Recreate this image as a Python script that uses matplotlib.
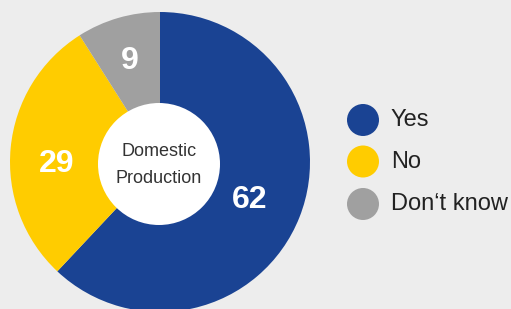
import matplotlib.pyplot as plt
from matplotlib.patches import Circle
import numpy as np

# survey answers
labels = ["Yes", "No", "Don\u2018t know"]
values = [62, 29, 9]
colors = ["#1a4393", "#ffcc00", "#a0a0a0"]
center_text = "Domestic\nProduction"

bg = "#ededed"
W, H = 511, 309

fig = plt.figure(figsize=(W / 100, H / 100), dpi=100)
fig.patch.set_facecolor(bg)
ax = fig.add_axes([0, 0, 1, 1])

cx, cy, r = 160, H - 162, 150
wedges, _ = ax.pie(values, colors=colors, startangle=90, counterclock=False,
                   radius=r, center=(cx, cy), frame=True,
                   wedgeprops=dict(linewidth=0))
ax.set_xlim(0, W)
ax.set_ylim(0, H)
ax.set_aspect("equal")
ax.axis("off")

# value labels inside the ring
label_r = [0.645, 0.69, 0.72]
label_shift = [0, 5.4, 0]  # degrees
for w, v, lr, sh in zip(wedges, values, label_r, label_shift):
    ang = np.deg2rad((w.theta1 + w.theta2) / 2 + sh)
    ax.text(cx + lr * r * np.cos(ang), cy + lr * r * np.sin(ang) + 1, str(v),
            ha="center", va="center_baseline", color="white", fontsize=23,
            fontweight="bold", family="Liberation Sans")

# white hole with title
ax.add_patch(Circle((cx - 1, cy - 2), 61, facecolor="white", edgecolor="none", zorder=3))
ax.text(cx - 1, cy - 3, center_text, ha="center", va="center", fontsize=13,
        color="#333333", family="Liberation Sans", linespacing=1.75, zorder=4)

# legend
ys = [H - 120, H - 161.5, H - 204]
for lab, col, y in zip(labels, colors, ys):
    ax.add_patch(Circle((363, y), 16, facecolor=col, edgecolor="none"))
    ax.text(391, y, lab, ha="left", va="center", fontsize=17, color="#222222",
            family="Liberation Sans")

fig.savefig("out.png", dpi=100, facecolor=bg)
